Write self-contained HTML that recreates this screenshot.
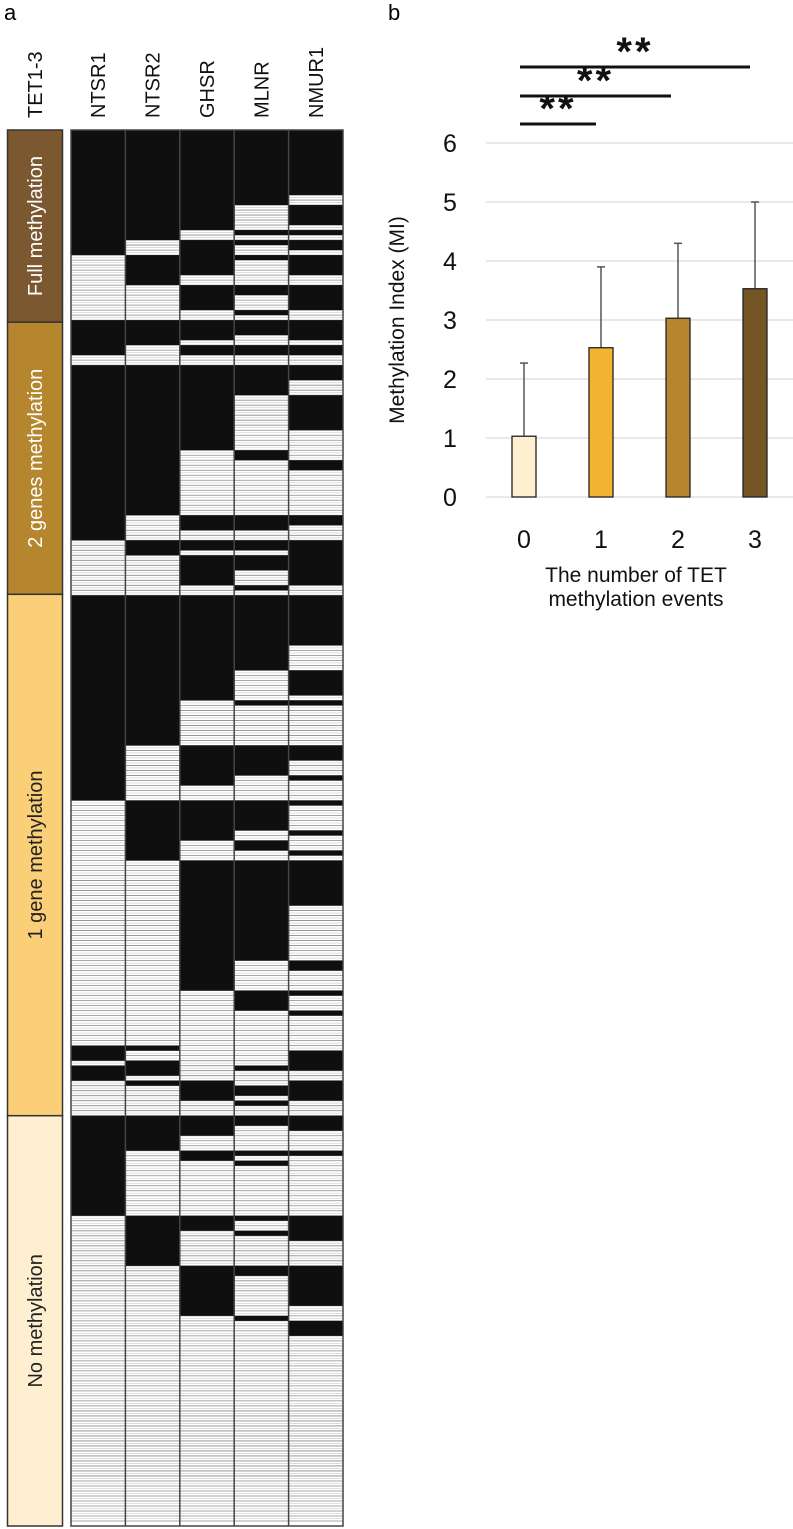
<!DOCTYPE html>
<html><head><meta charset="utf-8"><style>
html,body{margin:0;padding:0;background:#fff;}
svg{display:block;font-family:"Liberation Sans",sans-serif;}
</style></head><body>
<svg id="fig" width="793" height="1529" viewBox="0 0 793 1529" xmlns="http://www.w3.org/2000/svg">
<text x="4" y="20" font-size="22">a</text>
<text x="388" y="20" font-size="22">b</text>
<g id="heat"></g>
<g id="bars"></g>
</svg>
<script>
// ---------- Heatmap data (row indices, 279 samples) ----------
const genes = ["NTSR1","NTSR2","GHSR","MLNR","NMUR1"];
const nRows = 279;
const groupNames = ["Full methylation","2 genes methylation","1 gene methylation","No methylation"];
const groupStarts = [0,38.4,92.8,197];
const groupEnds = [38.4,92.8,197,279];
const groupColors = ["#7b5830","#b5862d","#fbcf77","#fdefd0"];
const groupTextColors = ["#ffffff","#ffffff","#222222","#222222"];
const blackNTSR1 = [[0,25],[38,45],[47,82],[93,134],[183,186],[187,190],[197,217]];
const blackNTSR2 = [[0,22],[25,31],[38,43],[47,77],[82,85],[93,123],[134,146],[183,184],[186,189],[190,191],[197,204],[217,227]];
const blackGHSR = [[0,20],[22,29],[31,36],[38,42],[43,45],[47,64],[77,80],[82,84],[85,91],[93,114],[123,131],[134,142],[146,172],[190,194],[197,201],[204,206],[217,220],[227,237]];
const blackMLNR = [[0,15],[20,21],[22,23],[25,26],[31,33],[36,37],[38,41],[43,45],[47,53],[64,66],[77,80],[82,84],[85,88],[91,92],[93,108],[114,115],[123,129],[134,140],[142,144],[146,166],[172,176],[187,188],[191,193],[194,195],[197,199],[204,205],[206,207],[217,218],[220,221],[227,229],[237,238]];
const blackNMUR1 = [[0,13],[15,19],[20,21],[22,24],[25,29],[31,36],[38,42],[43,45],[47,50],[53,60],[66,68],[77,79],[82,91],[93,103],[108,113],[114,115],[123,126],[129,130],[134,135],[140,141],[144,145],[146,155],[166,168],[172,173],[176,177],[184,188],[190,194],[197,200],[204,205],[217,222],[227,235],[238,241]];
const blackByGene = [blackNTSR1,blackNTSR2,blackGHSR,blackMLNR,blackNMUR1];

// ---------- Bar chart data ----------
const barCats = ["0","1","2","3"];
const barMeans = [1.03,2.53,3.03,3.53];
const barErrTop = [2.27,3.9,4.3,5.0];
const barColors = ["#fdefd0","#f2b431","#b5862d","#765525"];
const yTicks = [0,1,2,3,4,5,6];
const sigPairs = [[0,1],[0,2],[0,3]];
const sigLabels = ["**","**","**"];

const NS="http://www.w3.org/2000/svg";
function mk(tag,attrs,parent){const e=document.createElementNS(NS,tag);for(const k in attrs)e.setAttribute(k,attrs[k]);parent.appendChild(e);return e;}

const hm={x0:71,x1:343,y0:130,y1:1526};
const rowY=r=>hm.y0+r*(hm.y1-hm.y0)/nRows;
const colW=(hm.x1-hm.x0)/genes.length;
const colX=i=>hm.x0+i*colW;
const heat=document.getElementById('heat');

groupNames.forEach((g,i)=>{
  const y=rowY(groupStarts[i]),h=rowY(groupEnds[i])-y;
  const r=mk('rect',{x:7.5,y:y,width:55,height:h,fill:groupColors[i],stroke:'#333','stroke-width':1.5},heat);
  
  
  const cy=y+h/2;
  const t=mk('text',{x:0,y:0,'font-size':20,fill:groupTextColors[i],'text-anchor':'middle',transform:`translate(42,${cy}) rotate(-90)`},heat);
  t.textContent=g;
  
  
});
const tl=mk('text',{x:0,y:0,'font-size':20,fill:'#111',transform:'translate(42,118) rotate(-90)'},heat);
tl.textContent="TET1-3";



const bg=mk('rect',{x:hm.x0,y:hm.y0,width:hm.x1-hm.x0,height:hm.y1-hm.y0,fill:'#fff'},heat);


let d='',d2='';
for(let r=1;r<nRows;r++){const y=rowY(r);d+=`M${hm.x0} ${y.toFixed(2)}H${hm.x1}`;const ym=rowY(r-0.5);d2+=`M${hm.x0} ${ym.toFixed(2)}H${hm.x1}`;}
const rl2=mk('path',{d:d2,stroke:'#d6d6d6','stroke-width':0.8,fill:'none'},heat);


const rl=mk('path',{d:d,stroke:'#8a8a8a','stroke-width':0.8,fill:'none'},heat);


blackByGene.forEach((arr,gi)=>{
  arr.forEach(([a,b])=>{
    const y=rowY(a);
    const c=mk('rect',{x:colX(gi),y:y,width:colW,height:rowY(b)-y,fill:'#0f0f0f'},heat);
    
    
  });
  const lab=mk('text',{x:0,y:0,'font-size':20,fill:'#111',transform:`translate(${colX(gi)+colW/2+7},118) rotate(-90)`},heat);
  lab.textContent=genes[gi];
  
  
});
for(let i=1;i<genes.length;i++){
  const l=mk('line',{x1:colX(i),x2:colX(i),y1:hm.y0,y2:hm.y1,stroke:'#444','stroke-width':1.5},heat);
  
  
}
const bd=mk('rect',{x:hm.x0,y:hm.y0,width:hm.x1-hm.x0,height:hm.y1-hm.y0,fill:'none',stroke:'#444','stroke-width':1.5},heat);



// ---------- bar chart ----------
const bars=document.getElementById('bars');
const px0=486,px1=793,y0px=497,unit=59;
const yS=v=>y0px-v*unit;
const xS=i=>524+i*77;
yTicks.forEach(v=>{
  const g=mk('line',{x1:px0,x2:px1,y1:yS(v),y2:yS(v),stroke:'#d9d9d9','stroke-width':1.2},bars);
  
  
  const t=mk('text',{x:450,y:yS(v)+9,'font-size':25,'text-anchor':'middle',fill:'#111'},bars);
  t.textContent=String(v);
  
  
});
barCats.forEach((c,i)=>{
  const cx=xS(i);
  const e=mk('line',{x1:cx,x2:cx,y1:yS(barErrTop[i]),y2:yS(barMeans[i]),stroke:'#555','stroke-width':1.5},bars);
  
  
  const cap=mk('line',{x1:cx-4,x2:cx+4,y1:yS(barErrTop[i]),y2:yS(barErrTop[i]),stroke:'#555','stroke-width':1.5},bars);
  
  
  const b=mk('rect',{x:cx-12,y:yS(barMeans[i]),width:24,height:yS(0)-yS(barMeans[i]),fill:barColors[i],stroke:'#222','stroke-width':1.3},bars);
  
  
  const t=mk('text',{x:cx,y:548,'font-size':25,'text-anchor':'middle',fill:'#111'},bars);
  t.textContent=c;
  
  
});
const sigY=[124,96,67];
const sigEnd=[596,671,750];
sigPairs.forEach(([a,b],k)=>{
  const x1=xS(a)-4;
  const l=mk('line',{x1:x1,x2:sigEnd[k],y1:sigY[k],y2:sigY[k],stroke:'#111','stroke-width':3},bars);
  
  
  const mid=(x1+sigEnd[k])/2;
  const t=mk('text',{x:mid,y:sigY[k]+12,'font-size':40,'font-weight':'bold','text-anchor':'middle','letter-spacing':3,fill:'#111',transform:'translate(0,-14)'},bars);
  t.textContent=sigLabels[k];
  
  
});
const xt1=mk('text',{x:636,y:582,'font-size':21,'text-anchor':'middle',fill:'#111'},bars);
xt1.textContent="The number of TET";


const xt2=mk('text',{x:636,y:606,'font-size':21,'text-anchor':'middle',fill:'#111'},bars);
xt2.textContent="methylation events";


const yt=mk('text',{x:0,y:0,'font-size':21,'text-anchor':'middle',fill:'#111',transform:'translate(404,320) rotate(-90)'},bars);
yt.textContent="Methylation Index (MI)";


</script>
</body></html>
